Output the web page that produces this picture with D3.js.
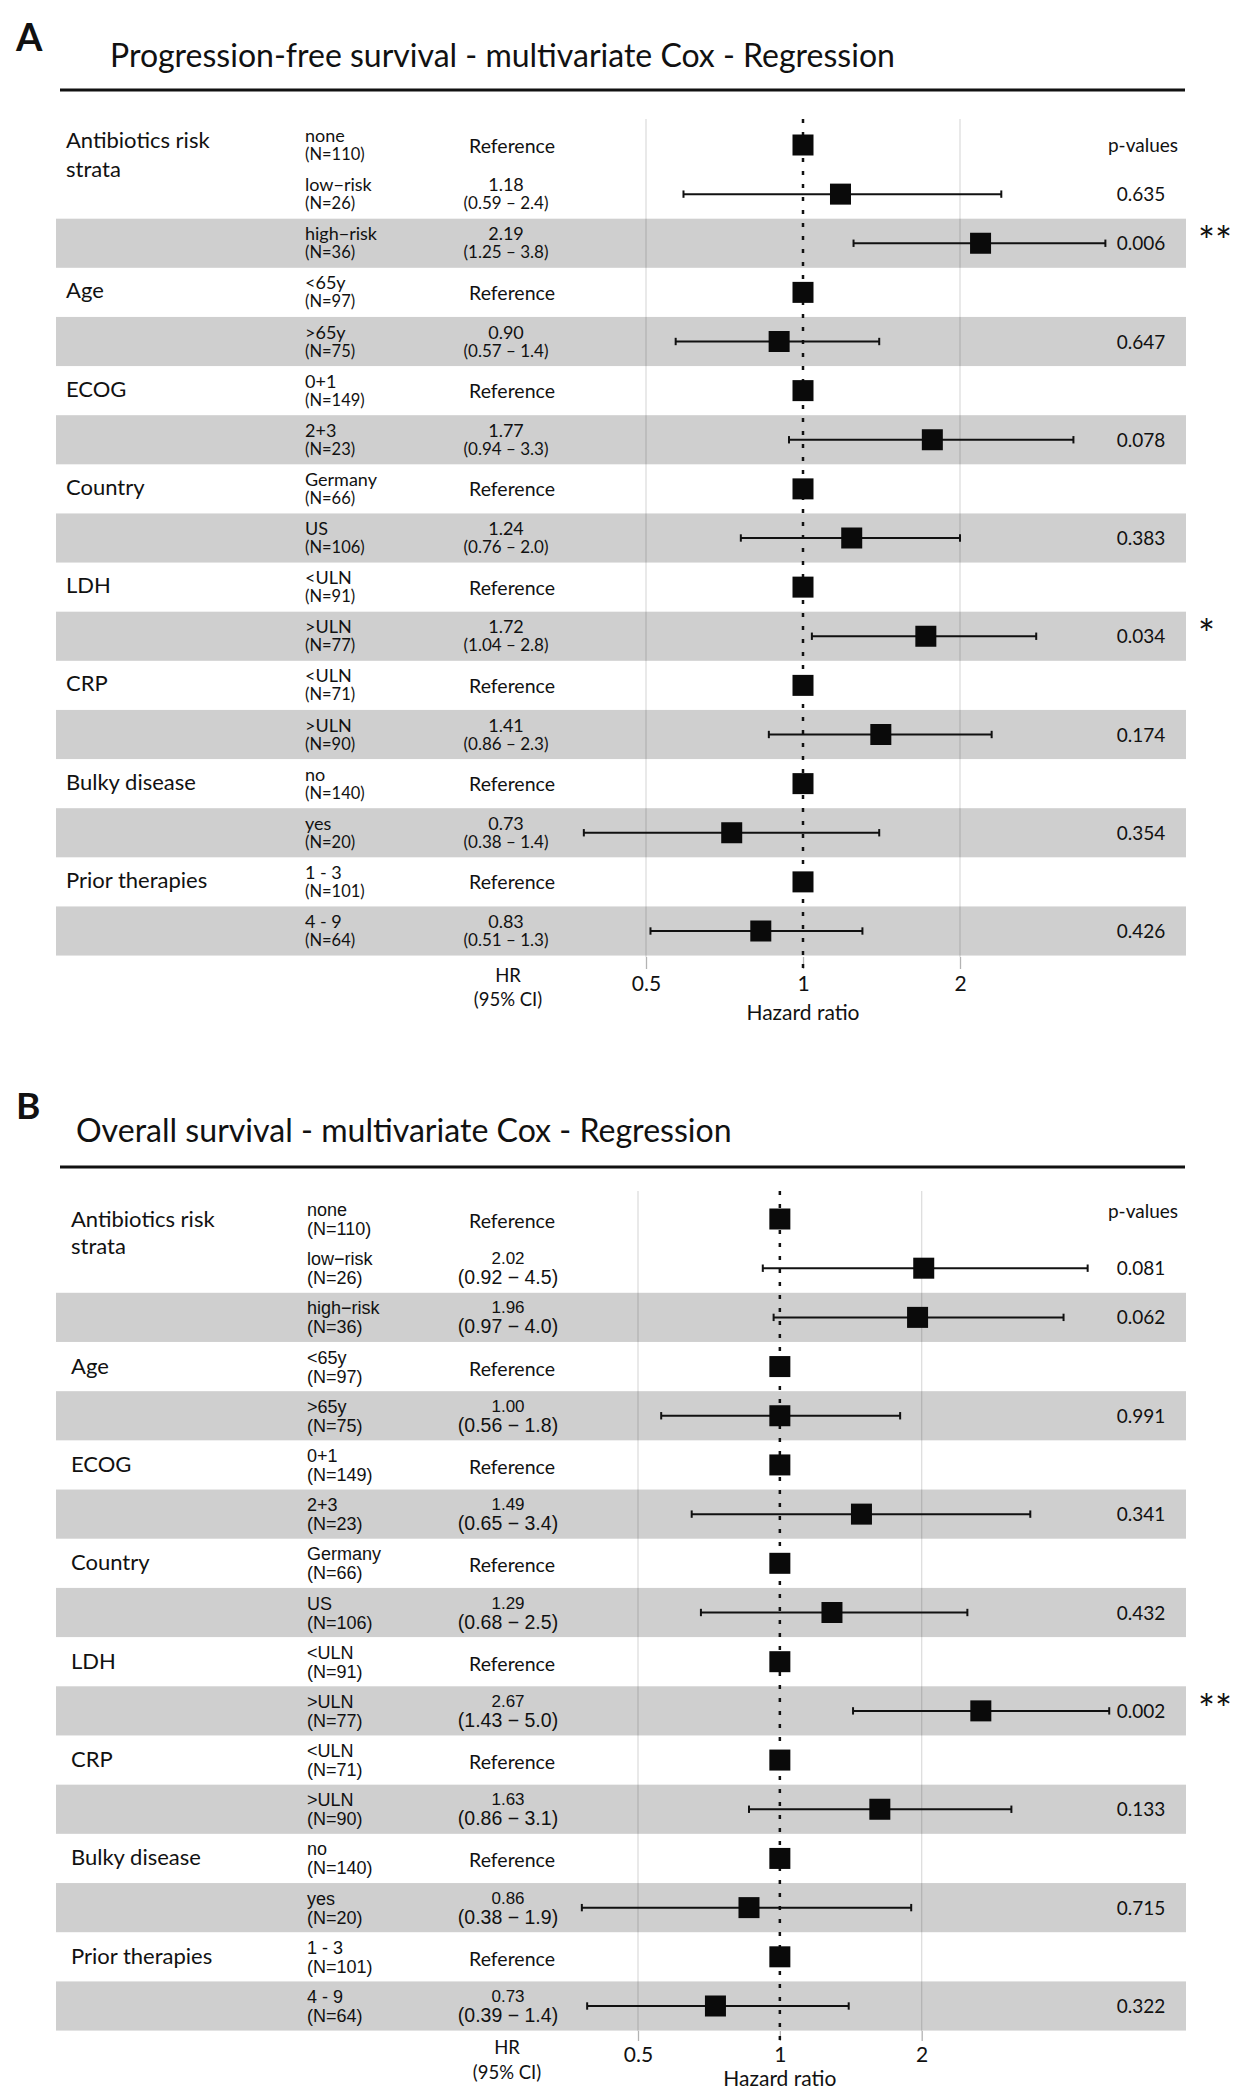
<!DOCTYPE html>
<html><head><meta charset="utf-8">
<script src="https://cdn.jsdelivr.net/npm/d3@7"></script>
<style>body{margin:0;background:#fff}svg{display:block}</style>
</head><body><svg id="c" width="1250" height="2100"></svg>
<script>
// ---------------- DATA ----------------
const variables = ["Antibiotics risk|strata","Age","ECOG","Country","LDH","CRP","Bulky disease","Prior therapies"];
const varFirstRow = [0,3,5,7,9,11,13,15];
const levels = ["none","low\u2212risk","high\u2212risk","<65y",">65y","0+1","2+3","Germany","US","<ULN",">ULN","<ULN",">ULN","no","yes","1 - 3","4 - 9"];
const counts = [110,26,36,97,75,149,23,66,106,91,77,71,90,140,20,101,64];

const pfsHR   = [1,1.18,2.19,1,0.90,1,1.77,1,1.24,1,1.72,1,1.41,1,0.73,1,0.83];
const pfsLow  = [null,0.59,1.25,null,0.57,null,0.94,null,0.76,null,1.04,null,0.86,null,0.38,null,0.51];
const pfsHigh = [null,2.4,3.8,null,1.4,null,3.3,null,2.0,null,2.8,null,2.3,null,1.4,null,1.3];
const pfsP    = [null,0.635,0.006,null,0.647,null,0.078,null,0.383,null,0.034,null,0.174,null,0.354,null,0.426];
const pfsStars= ["","","**","","","","","","","","*","","","","","",""];

const osHR   = [1,2.02,1.96,1,1.00,1,1.49,1,1.29,1,2.67,1,1.63,1,0.86,1,0.73];
const osLow  = [null,0.92,0.97,null,0.56,null,0.65,null,0.68,null,1.43,null,0.86,null,0.38,null,0.39];
const osHigh = [null,4.5,4.0,null,1.8,null,3.4,null,2.5,null,5.0,null,3.1,null,1.9,null,1.4];
const osP    = [null,0.081,0.062,null,0.991,null,0.341,null,0.432,null,0.002,null,0.133,null,0.715,null,0.322];
const osStars= ["","","","","","","","","","","**","","","","","",""];

const axisTicks = [0.5, 1, 2];
const titles = ["Progression-free survival - multivariate Cox - Regression","Overall survival - multivariate Cox - Regression"];
const panelLetters = ["A","B"];

// ---------------- LAYOUT ----------------
const MAIN = "Lato, 'Open Sans', sans-serif";
const ARIAL = "'Liberation Sans', Arial, sans-serif";
const svg = d3.select("#c");

const panels = [
  {letter:panelLetters[0], title:titles[0], hr:pfsHR, lo:pfsLow, hi:pfsHigh, p:pfsP, stars:pfsStars,
   letterX:16, letterY:51, letterSize:38, titleX:110, titleY:67, titleW:785, lineY:90,
   row0:145, row16:931, x05:646, x2:960, panelTop:119, panelBot:957, tickLen:12, tickPad:7,
   varX:66, varDy:6, varMultiDy:3, varGap:29, varSize:22,
   lvlX:305, lvlFont:MAIN, lvl1Size:18, lvl2Size:16.5, lvl1Dy:-3, lvl2Dy:15,
   refX:512, refDy:7.5, refSize:19.5,
   hrX:506, hrFont:MAIN, hr1Size:18, hr2Size:17, hr1Dy:-3, hr2Dy:15, dash:"\u2013",
   pX:1141, pDy:7, pHeadDy:7, pSize:19,
   hrHeadX:508, hrHead1:982, hrHead2:1006,
   xlabY:1020},
  {letter:panelLetters[1], title:titles[1], hr:osHR, lo:osLow, hi:osHigh, p:osP, stars:osStars,
   letterX:16, letterY:1119, letterSize:37, titleX:76, titleY:1142, titleW:656, lineY:1167,
   row0:1219, row16:2006, x05:638, x2:921.7, panelTop:1191, panelBot:2031, tickLen:10, tickPad:6,
   varX:71, varDy:7, varMultiDy:8, varGap:27, varSize:22,
   lvlX:307, lvlFont:ARIAL, lvl1Size:18, lvl2Size:18, lvl1Dy:-3, lvl2Dy:16,
   refX:512, refDy:9, refSize:19.5,
   hrX:508, hrFont:ARIAL, hr1Size:17, hr2Size:19.5, hr1Dy:-4, hr2Dy:16, dash:"\u2212",
   pX:1141, pDy:7, pHeadDy:-1, pSize:19,
   hrHeadX:507, hrHead1:2054, hrHead2:2079,
   xlabY:2086}
];

function drawPanel(c){
  const g = svg.append("g");
  const n = levels.length;
  const y = d3.scaleLinear().domain([0, n-1]).range([c.row0, c.row16]);
  const rowH = (c.row16 - c.row0)/(n-1);
  const x = d3.scaleLog().domain([0.5, 2]).range([c.x05, c.x2]);

  // letter + title + rule
  g.append("text").attr("x", c.letterX).attr("y", c.letterY).attr("font-family", MAIN)
    .attr("font-weight", 700).attr("font-size", c.letterSize).attr("fill","#111").text(c.letter);
  const t = g.append("text").attr("x", c.titleX).attr("y", c.titleY).attr("font-family", MAIN)
    .attr("font-size", 28).attr("fill","#111").text(c.title);
  const w = t.node().getComputedTextLength();
  t.attr("font-size", 28 * c.titleW / w);
  g.append("line").attr("x1", 60).attr("x2", 1185).attr("y1", c.lineY).attr("y2", c.lineY)
    .attr("stroke","#111").attr("stroke-width",3);

  // gridlines
  g.selectAll(".grid").data([0.5, 2]).join("line")
    .attr("x1", d=>x(d)).attr("x2", d=>x(d)).attr("y1", c.panelTop).attr("y2", c.panelBot)
    .attr("stroke","#dedede").attr("stroke-width",1.3);

  // bands
  const bandRows = d3.range(n).filter(i => i % 2 === 0 && i > 0);
  g.selectAll(".band").data(bandRows).join("rect")
    .attr("x", 56).attr("width", 1186-56)
    .attr("y", i => y(i) - rowH/2).attr("height", rowH)
    .attr("fill","rgba(0,0,0,0.19)");

  // axis
  const axis = d3.axisBottom(x).tickValues(axisTicks).tickFormat(d => String(d))
    .tickSize(c.tickLen).tickPadding(c.tickPad);
  const ag = g.append("g").attr("transform", `translate(0,${c.panelBot})`).call(axis);
  ag.select(".domain").remove();
  ag.selectAll(".tick line").attr("stroke","#b3b3b3").attr("stroke-width",1.3);
  ag.selectAll(".tick text").attr("font-family", MAIN).attr("font-size", 21).attr("fill","#111");
  g.append("text").attr("x", x(1)).attr("y", c.xlabY).attr("text-anchor","middle")
    .attr("font-family", MAIN).attr("font-size", 21).attr("fill","#111").text("Hazard ratio");

  // reference dotted line
  g.append("line").attr("x1", x(1)).attr("x2", x(1)).attr("y1", c.panelTop).attr("y2", c.panelBot + c.tickLen)
    .attr("stroke","#111").attr("stroke-width",2.5).attr("stroke-dasharray","4 9");

  // error bars
  const ci = d3.range(n).filter(i => c.lo[i] != null);
  const cap = rowH * 0.075;
  const eb = g.selectAll(".eb").data(ci).join("g").attr("stroke","#111").attr("stroke-width",2);
  eb.append("line").attr("x1", i=>x(c.lo[i])).attr("x2", i=>x(c.hi[i])).attr("y1", i=>y(i)).attr("y2", i=>y(i));
  eb.append("line").attr("x1", i=>x(c.lo[i])).attr("x2", i=>x(c.lo[i])).attr("y1", i=>y(i)-cap).attr("y2", i=>y(i)+cap);
  eb.append("line").attr("x1", i=>x(c.hi[i])).attr("x2", i=>x(c.hi[i])).attr("y1", i=>y(i)-cap).attr("y2", i=>y(i)+cap);

  // points
  const s = 21;
  g.selectAll(".pt").data(d3.range(n)).join("rect")
    .attr("x", i => x(c.hr[i]) - s/2).attr("y", i => y(i) - s/2)
    .attr("width", s).attr("height", s).attr("fill","#0a0a0a");

  // variable names
  variables.forEach((v, k) => {
    const r = varFirstRow[k];
    const lines = v.split("|");
    const base = y(r) + (lines.length > 1 ? c.varMultiDy : c.varDy);
    lines.forEach((ln, j) => {
      g.append("text").attr("x", c.varX).attr("y", base + j*c.varGap)
        .attr("font-family", MAIN).attr("font-size", c.varSize).attr("fill","#111").text(ln);
    });
  });

  // levels, HR, p
  d3.range(n).forEach(i => {
    g.append("text").attr("x", c.lvlX).attr("y", y(i) + c.lvl1Dy).attr("font-family", c.lvlFont)
      .attr("font-size", c.lvl1Size).attr("fill","#111").text(levels[i]);
    g.append("text").attr("x", c.lvlX).attr("y", y(i) + c.lvl2Dy).attr("font-family", c.lvlFont)
      .attr("font-size", c.lvl2Size).attr("fill","#111").text(`(N=${counts[i]})`);
    if (c.lo[i] == null) {
      g.append("text").attr("x", c.refX).attr("y", y(i) + c.refDy).attr("text-anchor","middle")
        .attr("font-family", MAIN).attr("font-size", c.refSize).attr("fill","#111").text("Reference");
    } else {
      g.append("text").attr("x", c.hrX).attr("y", y(i) + c.hr1Dy).attr("text-anchor","middle")
        .attr("font-family", c.hrFont).attr("font-size", c.hr1Size).attr("fill","#111").text(c.hr[i].toFixed(2));
      g.append("text").attr("x", c.hrX).attr("y", y(i) + c.hr2Dy).attr("text-anchor","middle")
        .attr("font-family", c.hrFont).attr("font-size", c.hr2Size).attr("fill","#111")
        .text(`(${c.lo[i].toFixed(2)} ${c.dash} ${c.hi[i].toFixed(1)})`);
      g.append("text").attr("x", c.pX).attr("y", y(i) + c.pDy).attr("text-anchor","middle")
        .attr("font-family", MAIN).attr("font-size", c.pSize).attr("fill","#111").text(c.p[i].toFixed(3));
    }
    if (c.stars[i]) {
      g.append("text").attr("x", 1198).attr("y", y(i) + 13).attr("font-family", MAIN)
        .attr("font-size", 40).attr("fill","#111").text(c.stars[i]);
    }
  });
  g.append("text").attr("x", c.pX + 2).attr("y", y(0) + c.pHeadDy).attr("text-anchor","middle")
    .attr("font-family", MAIN).attr("font-size", c.pSize).attr("fill","#111").text("p-values");

  // HR header
  g.append("text").attr("x", c.hrHeadX).attr("y", c.hrHead1).attr("text-anchor","middle")
    .attr("font-family", MAIN).attr("font-size", 18.5).attr("fill","#111").text("HR");
  g.append("text").attr("x", c.hrHeadX).attr("y", c.hrHead2).attr("text-anchor","middle")
    .attr("font-family", MAIN).attr("font-size", 18.5).attr("fill","#111").text("(95% CI)");
}

panels.forEach(drawPanel);
</script></body></html>
